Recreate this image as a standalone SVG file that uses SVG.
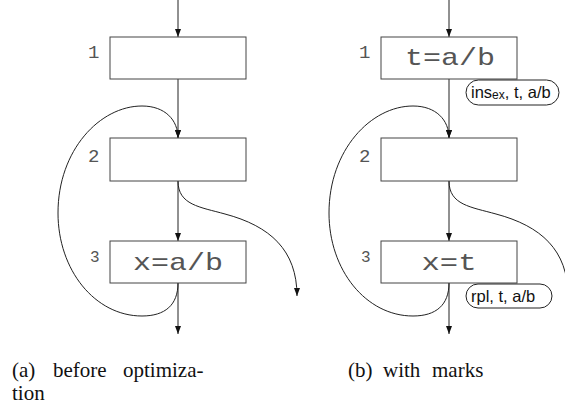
<svg xmlns="http://www.w3.org/2000/svg" width="565" height="416" viewBox="0 0 565 416">
<defs>
<marker id="ah" markerUnits="userSpaceOnUse" markerWidth="8" markerHeight="8" refX="8" refY="3" orient="auto">
<path d="M0,0 L8,3 L0,6 z" fill="#111"/>
</marker>
<style>
.box{fill:#fff;stroke:#444;stroke-width:1}
.ln{fill:none;stroke:#222;stroke-width:1}
.arr{marker-end:url(#ah)}
.code{font-family:"Liberation Mono",monospace;font-size:24px;fill:#555}
.num{font-family:"Liberation Mono",monospace;font-size:19px;fill:#555}
.num3{font-family:"Liberation Mono",monospace;font-size:16px;fill:#555}
.pill{fill:#fff;stroke:#222;stroke-width:1}
.mk{font-family:"Liberation Sans",Arial,sans-serif;font-size:16.5px;fill:#111}
.sub{font-size:12px}
.cap{font-family:"Liberation Serif","Times New Roman",serif;font-size:21px;fill:#111}
</style>
</defs>
<rect width="565" height="416" fill="#fff"/>
<g id="connectors">
<line class="ln arr" x1="178" y1="0" x2="178" y2="37"/>
<line class="ln arr" x1="178" y1="79" x2="178" y2="138"/>
<line class="ln arr" x1="178" y1="181" x2="178" y2="241"/>
<line class="ln arr" x1="178" y1="283" x2="178" y2="334"/>
<path class="ln arr" d="M178,283 C178,305 165,316 142,316 C95,316 58,270 58,213 C58,150 100,106 142,106 C165,106 178,120 178,138"/>
<path class="ln arr" d="M178,181 C178,205 200,207 225,214 C270,226 297,250 297,296"/>
<line class="ln arr" x1="449" y1="0" x2="449" y2="37"/>
<line class="ln arr" x1="449" y1="79" x2="449" y2="138"/>
<line class="ln arr" x1="449" y1="181" x2="449" y2="241"/>
<line class="ln arr" x1="449" y1="283" x2="449" y2="334"/>
<path class="ln arr" d="M449,283 C449,305 436,316 413,316 C366,316 329,270 329,213 C329,150 371,106 413,106 C436,106 449,120 449,138"/>
<path class="ln" d="M449,181 C449,205 471,207 496,214 C541,226 568,250 568,296"/>
</g>
<g id="a-n1"><rect class="box" x="110" y="37" width="136" height="42"/><text class="num" x="88" y="58">1</text></g>
<g id="a-n2"><rect class="box" x="110" y="138" width="136" height="43"/><text class="num" x="88" y="162">2</text></g>
<g id="a-n3"><rect class="box" x="110" y="241" width="136" height="42"/><text class="num3" x="90" y="262">3</text><text class="code" x="178" y="270" text-anchor="middle" textLength="90" lengthAdjust="spacingAndGlyphs">x=a/b</text></g>
<g id="b-n1"><rect class="box" x="381" y="37" width="136" height="42"/><text class="num" x="359" y="58">1</text><text class="code" x="450" y="65" text-anchor="middle" textLength="90" lengthAdjust="spacingAndGlyphs">t=a/b</text></g>
<g id="b-n2"><rect class="box" x="381" y="138" width="136" height="43"/><text class="num" x="359" y="162">2</text></g>
<g id="b-n3"><rect class="box" x="381" y="241" width="136" height="42"/><text class="num3" x="361" y="262">3</text><text class="code" x="449" y="270" text-anchor="middle" textLength="55" lengthAdjust="spacingAndGlyphs">x=t</text></g>
<g id="mark1"><rect class="pill" x="466" y="80" width="93" height="25" rx="12.5"/><text class="mk" x="471" y="98">ins<tspan class="sub" dy="1">ex</tspan><tspan dy="-1">, t, a/b</tspan></text></g>
<g id="mark2"><rect class="pill" x="466" y="284" width="86" height="24" rx="12"/><text class="mk" x="471" y="302">rpl, t, a/b</text></g>
<g id="captions">
<text class="cap" y="377"><tspan x="12">(a)</tspan><tspan x="53">before</tspan><tspan x="123">optimiza-</tspan></text>
<text class="cap" x="12" y="400">tion</text>
<text class="cap" y="377"><tspan x="348">(b)</tspan><tspan x="383">with</tspan><tspan x="432">marks</tspan></text>
</g>
</svg>
